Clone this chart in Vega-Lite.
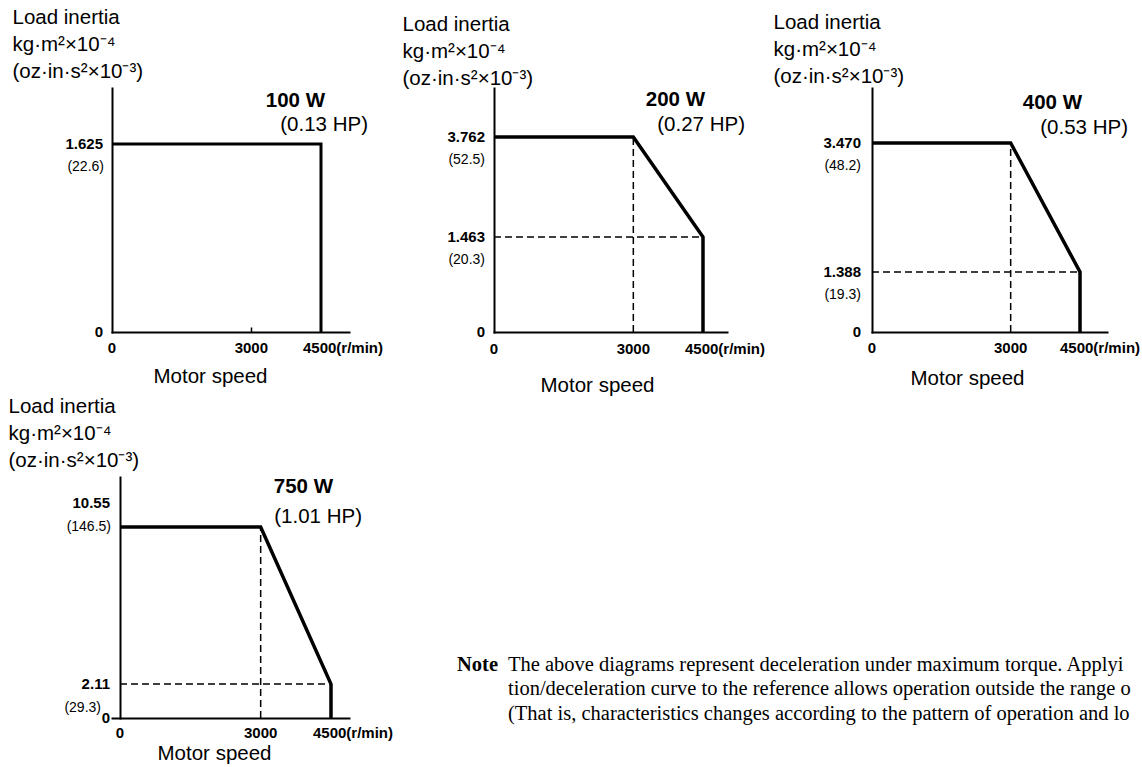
{
  "$schema": "https://vega.github.io/schema/vega-lite/v6.json",
  "autosize": {"type": "pad"},
  "padding": {"left": 8, "top": 7, "right": 0, "bottom": 0},
  "background": "white",
  "config": {
    "view": {"stroke": null},
    "font": "Liberation Sans",
    "axis": {"grid": false, "ticks": false, "labels": false, "domainColor": "black", "domainWidth": 2, "domainCap": "square", "titleFont": "Liberation Sans", "titleFontSize": 20.5, "titleFontWeight": "normal", "titleColor": "black"},
    "axisX": {"titleAlign": "center", "titleBaseline": "middle"},
    "axisY": {"titleAngle": 0, "titleAlign": "left", "titleBaseline": "alphabetic", "titleLineHeight": 27},
    "text": {"color": "black", "font": "Liberation Sans"}
  },
  "datasets": {
    "curve": [
      {"panel": "100 W", "step": 1, "speed": 0, "inertia": 1.625},
      {"panel": "100 W", "step": 2, "speed": 4500, "inertia": 1.625},
      {"panel": "100 W", "step": 3, "speed": 4500, "inertia": 0},
      {"panel": "200 W", "step": 1, "speed": 0, "inertia": 3.762},
      {"panel": "200 W", "step": 2, "speed": 3000, "inertia": 3.762},
      {"panel": "200 W", "step": 3, "speed": 4500, "inertia": 1.463},
      {"panel": "200 W", "step": 4, "speed": 4500, "inertia": 0},
      {"panel": "400 W", "step": 1, "speed": 0, "inertia": 3.470},
      {"panel": "400 W", "step": 2, "speed": 3000, "inertia": 3.470},
      {"panel": "400 W", "step": 3, "speed": 4500, "inertia": 1.388},
      {"panel": "400 W", "step": 4, "speed": 4500, "inertia": 0},
      {"panel": "750 W", "step": 1, "speed": 0, "inertia": 10.55},
      {"panel": "750 W", "step": 2, "speed": 3000, "inertia": 10.55},
      {"panel": "750 W", "step": 3, "speed": 4500, "inertia": 2.11},
      {"panel": "750 W", "step": 4, "speed": 4500, "inertia": 0}
    ],
    "guides": [
      {"panel": "200 W", "speed": 3000, "speed2": 3000, "inertia": 0, "inertia2": 3.762},
      {"panel": "200 W", "speed": 0, "speed2": 4500, "inertia": 1.463, "inertia2": 1.463},
      {"panel": "400 W", "speed": 3000, "speed2": 3000, "inertia": 0, "inertia2": 3.470},
      {"panel": "400 W", "speed": 0, "speed2": 4500, "inertia": 1.388, "inertia2": 1.388},
      {"panel": "750 W", "speed": 3000, "speed2": 3000, "inertia": 0, "inertia2": 10.55},
      {"panel": "750 W", "speed": 0, "speed2": 4500, "inertia": 2.11, "inertia2": 2.11}
    ],
    "yticks": [
      {"panel": "100 W", "inertia": 1.625, "label": "1.625", "sub": "(22.6)"},
      {"panel": "100 W", "inertia": 0, "label": "0", "sub": ""},
      {"panel": "200 W", "inertia": 3.762, "label": "3.762", "sub": "(52.5)"},
      {"panel": "200 W", "inertia": 1.463, "label": "1.463", "sub": "(20.3)"},
      {"panel": "200 W", "inertia": 0, "label": "0", "sub": ""},
      {"panel": "400 W", "inertia": 3.470, "label": "3.470", "sub": "(48.2)"},
      {"panel": "400 W", "inertia": 1.388, "label": "1.388", "sub": "(19.3)"},
      {"panel": "400 W", "inertia": 0, "label": "0", "sub": ""},
      {"panel": "750 W", "inertia": 10.55, "label": "10.55", "sub": "(146.5)"},
      {"panel": "750 W", "inertia": 2.11, "label": "2.11", "sub": "(29.3)"},
      {"panel": "750 W", "inertia": 0, "label": "0", "sub": ""}
    ],
    "xticks": [
      {"speed": 0, "label": "0"},
      {"speed": 3000, "label": "3000"},
      {"speed": 4500, "label": "4500(r/min)"}
    ],
    "ratings": [
      {"panel": "100 W", "hp": "(0.13 HP)"},
      {"panel": "200 W", "hp": "(0.27 HP)"},
      {"panel": "400 W", "hp": "(0.53 HP)"},
      {"panel": "750 W", "hp": "(1.01 HP)"}
    ],
    "note": [
      {"line": 1, "note": "Note", "text": "The above diagrams represent deceleration under maximum torque. Applyi"},
      {"line": 2, "note": "", "text": "tion/deceleration curve to the reference allows operation outside the range o"},
      {"line": 3, "note": "", "text": "(That is, characteristics changes according to the pattern of operation and lo"}
    ]
  },
  "concat": [
    {
      "width": 237, "height": 244,
      "layer": [
        {"data": {"name": "curve"}, "transform": [{"filter": "datum.panel === '100 W'"}],
         "mark": {"type": "line", "color": "black", "strokeWidth": 3, "strokeJoin": "miter", "strokeCap": "butt"},
         "encoding": {
           "x": {"field": "speed", "type": "quantitative", "scale": {"domain": [0, 5103], "nice": false, "zero": false},
                 "axis": {"title": "Motor speed", "titleX": 98, "titleY": 44, "values": [3000], "ticks": true, "tickSize": -5, "tickColor": "black", "tickWidth": 1.5}},
           "y": {"field": "inertia", "type": "quantitative", "scale": {"domain": [0, 2.109], "nice": false, "zero": false},
                 "axis": {"title": ["Load inertia", "kg·m²×10⁻⁴", "(oz·in·s²×10⁻³)"], "titleX": -100, "titleY": -65}},
           "order": {"field": "step", "type": "quantitative"}
         }},
        {"data": {"name": "yticks"}, "transform": [{"filter": "datum.panel === '100 W'"}],
         "mark": {"type": "text", "align": "right", "baseline": "middle", "dx": -9, "fontSize": 15, "fontWeight": "bold"},
         "encoding": {"x": {"datum": 0, "type": "quantitative"}, "y": {"field": "inertia", "type": "quantitative"}, "text": {"field": "label"}}},
        {"data": {"name": "yticks"}, "transform": [{"filter": "datum.panel === '100 W'"}],
         "mark": {"type": "text", "align": "right", "baseline": "middle", "dx": -8, "dy": 23, "fontSize": 14},
         "encoding": {"x": {"datum": 0, "type": "quantitative"}, "y": {"field": "inertia", "type": "quantitative"}, "text": {"field": "sub"}}},
        {"data": {"name": "xticks"}, "transform": [{"filter": "datum.speed < 4500"}],
         "mark": {"type": "text", "align": "center", "baseline": "middle", "dy": 16, "fontSize": 15, "fontWeight": "bold"},
         "encoding": {"x": {"field": "speed", "type": "quantitative"}, "y": {"datum": 0, "type": "quantitative"}, "text": {"field": "label"}}},
        {"data": {"name": "xticks"}, "transform": [{"filter": "datum.speed === 4500"}],
         "mark": {"type": "text", "align": "left", "baseline": "middle", "dx": -18, "dy": 16, "fontSize": 15, "fontWeight": "bold"},
         "encoding": {"x": {"field": "speed", "type": "quantitative"}, "y": {"datum": 0, "type": "quantitative"}, "text": {"field": "label"}}},
        {"data": {"name": "ratings"}, "transform": [{"filter": "datum.panel === '100 W'"}],
         "mark": {"type": "text", "align": "right", "baseline": "middle", "dx": 4, "dy": 13, "fontSize": 20.5, "fontWeight": "bold"},
         "encoding": {"x": {"datum": 4500, "type": "quantitative"}, "y": {"datum": 2.109, "type": "quantitative"}, "text": {"field": "panel"}}},
        {"data": {"name": "ratings"}, "transform": [{"filter": "datum.panel === '100 W'"}],
         "mark": {"type": "text", "align": "right", "baseline": "middle", "dx": 47, "dy": 37, "fontSize": 20.5},
         "encoding": {"x": {"datum": 4500, "type": "quantitative"}, "y": {"datum": 2.109, "type": "quantitative"}, "text": {"field": "hp"}}}
      ]
    },
    {
      "width": 233, "height": 244,
      "layer": [
        {"data": {"name": "curve"}, "transform": [{"filter": "datum.panel === '200 W'"}],
         "mark": {"type": "line", "color": "black", "strokeWidth": 3.5, "strokeJoin": "miter", "strokeCap": "butt"},
         "encoding": {
           "x": {"field": "speed", "type": "quantitative", "scale": {"domain": [0, 5017], "nice": false, "zero": false},
                 "axis": {"title": "Motor speed", "titleX": 103, "titleY": 53}},
           "y": {"field": "inertia", "type": "quantitative", "scale": {"domain": [0, 1.463, 3.762, 4.889], "range": [244, 149, 49, 0], "nice": false, "zero": false},
                 "axis": {"title": ["Load inertia", "kg·m²×10⁻⁴", "(oz·in·s²×10⁻³)"], "titleX": -92, "titleY": -58}},
           "order": {"field": "step", "type": "quantitative"}
         }},
        {"data": {"name": "guides"}, "transform": [{"filter": "datum.panel === '200 W'"}],
         "mark": {"type": "rule", "color": "black", "strokeWidth": 1.5, "strokeDash": [7, 4]},
         "encoding": {"x": {"field": "speed", "type": "quantitative"}, "x2": {"field": "speed2"}, "y": {"field": "inertia", "type": "quantitative"}, "y2": {"field": "inertia2"}}},
        {"data": {"name": "yticks"}, "transform": [{"filter": "datum.panel === '200 W'"}],
         "mark": {"type": "text", "align": "right", "baseline": "middle", "dx": -9, "fontSize": 15, "fontWeight": "bold"},
         "encoding": {"x": {"datum": 0, "type": "quantitative"}, "y": {"field": "inertia", "type": "quantitative"}, "text": {"field": "label"}}},
        {"data": {"name": "yticks"}, "transform": [{"filter": "datum.panel === '200 W'"}],
         "mark": {"type": "text", "align": "right", "baseline": "middle", "dx": -9, "dy": 23, "fontSize": 14},
         "encoding": {"x": {"datum": 0, "type": "quantitative"}, "y": {"field": "inertia", "type": "quantitative"}, "text": {"field": "sub"}}},
        {"data": {"name": "xticks"}, "transform": [{"filter": "datum.speed < 4500"}],
         "mark": {"type": "text", "align": "center", "baseline": "middle", "dy": 17, "fontSize": 15, "fontWeight": "bold"},
         "encoding": {"x": {"field": "speed", "type": "quantitative"}, "y": {"datum": 0, "type": "quantitative"}, "text": {"field": "label"}}},
        {"data": {"name": "xticks"}, "transform": [{"filter": "datum.speed === 4500"}],
         "mark": {"type": "text", "align": "left", "baseline": "middle", "dx": -18, "dy": 17, "fontSize": 15, "fontWeight": "bold"},
         "encoding": {"x": {"field": "speed", "type": "quantitative"}, "y": {"datum": 0, "type": "quantitative"}, "text": {"field": "label"}}},
        {"data": {"name": "ratings"}, "transform": [{"filter": "datum.panel === '200 W'"}],
         "mark": {"type": "text", "align": "right", "baseline": "middle", "dx": 2, "dy": 12, "fontSize": 20.5, "fontWeight": "bold"},
         "encoding": {"x": {"datum": 4500, "type": "quantitative"}, "y": {"datum": 4.889, "type": "quantitative"}, "text": {"field": "panel"}}},
        {"data": {"name": "ratings"}, "transform": [{"filter": "datum.panel === '200 W'"}],
         "mark": {"type": "text", "align": "right", "baseline": "middle", "dx": 42, "dy": 37, "fontSize": 20.5},
         "encoding": {"x": {"datum": 4500, "type": "quantitative"}, "y": {"datum": 4.889, "type": "quantitative"}, "text": {"field": "hp"}}}
      ]
    },
    {
      "width": 235, "height": 244,
      "layer": [
        {"data": {"name": "curve"}, "transform": [{"filter": "datum.panel === '400 W'"}],
         "mark": {"type": "line", "color": "black", "strokeWidth": 3.5, "strokeJoin": "miter", "strokeCap": "butt"},
         "encoding": {
           "x": {"field": "speed", "type": "quantitative", "scale": {"domain": [0, 5084], "nice": false, "zero": false},
                 "axis": {"title": "Motor speed", "titleX": 95, "titleY": 46}},
           "y": {"field": "inertia", "type": "quantitative", "scale": {"domain": [0, 1.388, 3.470, 4.358], "range": [244, 184, 55, 0], "nice": false, "zero": false},
                 "axis": {"title": ["Load inertia", "kg·m²×10⁻⁴", "(oz·in·s²×10⁻³)"], "titleX": -99, "titleY": -60}},
           "order": {"field": "step", "type": "quantitative"}
         }},
        {"data": {"name": "guides"}, "transform": [{"filter": "datum.panel === '400 W'"}],
         "mark": {"type": "rule", "color": "black", "strokeWidth": 1.5, "strokeDash": [7, 4]},
         "encoding": {"x": {"field": "speed", "type": "quantitative"}, "x2": {"field": "speed2"}, "y": {"field": "inertia", "type": "quantitative"}, "y2": {"field": "inertia2"}}},
        {"data": {"name": "yticks"}, "transform": [{"filter": "datum.panel === '400 W'"}],
         "mark": {"type": "text", "align": "right", "baseline": "middle", "dx": -11, "fontSize": 15, "fontWeight": "bold"},
         "encoding": {"x": {"datum": 0, "type": "quantitative"}, "y": {"field": "inertia", "type": "quantitative"}, "text": {"field": "label"}}},
        {"data": {"name": "yticks"}, "transform": [{"filter": "datum.panel === '400 W'"}],
         "mark": {"type": "text", "align": "right", "baseline": "middle", "dx": -11, "dy": 23, "fontSize": 14},
         "encoding": {"x": {"datum": 0, "type": "quantitative"}, "y": {"field": "inertia", "type": "quantitative"}, "text": {"field": "sub"}}},
        {"data": {"name": "xticks"}, "transform": [{"filter": "datum.speed < 4500"}],
         "mark": {"type": "text", "align": "center", "baseline": "middle", "dy": 16, "fontSize": 15, "fontWeight": "bold"},
         "encoding": {"x": {"field": "speed", "type": "quantitative"}, "y": {"datum": 0, "type": "quantitative"}, "text": {"field": "label"}}},
        {"data": {"name": "xticks"}, "transform": [{"filter": "datum.speed === 4500"}],
         "mark": {"type": "text", "align": "left", "baseline": "middle", "dx": -20, "dy": 16, "fontSize": 15, "fontWeight": "bold"},
         "encoding": {"x": {"field": "speed", "type": "quantitative"}, "y": {"datum": 0, "type": "quantitative"}, "text": {"field": "label"}}},
        {"data": {"name": "ratings"}, "transform": [{"filter": "datum.panel === '400 W'"}],
         "mark": {"type": "text", "align": "right", "baseline": "middle", "dx": 2, "dy": 15, "fontSize": 20.5, "fontWeight": "bold"},
         "encoding": {"x": {"datum": 4500, "type": "quantitative"}, "y": {"datum": 4.358, "type": "quantitative"}, "text": {"field": "panel"}}},
        {"data": {"name": "ratings"}, "transform": [{"filter": "datum.panel === '400 W'"}],
         "mark": {"type": "text", "align": "right", "baseline": "middle", "dx": 48, "dy": 40, "fontSize": 20.5},
         "encoding": {"x": {"datum": 4500, "type": "quantitative"}, "y": {"datum": 4.358, "type": "quantitative"}, "text": {"field": "hp"}}}
      ]
    },
    {
      "width": 237, "height": 241,
      "layer": [
        {"data": {"name": "curve"}, "transform": [{"filter": "datum.panel === '750 W'"}],
         "mark": {"type": "line", "color": "black", "strokeWidth": 3.5, "strokeJoin": "miter", "strokeCap": "butt"},
         "encoding": {
           "x": {"field": "speed", "type": "quantitative", "scale": {"domain": [-170.6, 4884], "nice": false, "zero": false},
                 "axis": {"title": "Motor speed", "titleX": 102, "titleY": 35}},
           "y": {"field": "inertia", "type": "quantitative", "scale": {"domain": [0, 2.11, 10.55, 13.24], "range": [241, 207, 50, 0], "nice": false, "zero": false},
                 "axis": {"offset": -8, "title": ["Load inertia", "kg·m²×10⁻⁴", "(oz·in·s²×10⁻³)"], "titleX": -112, "titleY": -65}},
           "order": {"field": "step", "type": "quantitative"}
         }},
        {"data": {"name": "guides"}, "transform": [{"filter": "datum.panel === '750 W'"}],
         "mark": {"type": "rule", "color": "black", "strokeWidth": 1.5, "strokeDash": [7, 4]},
         "encoding": {"x": {"field": "speed", "type": "quantitative"}, "x2": {"field": "speed2"}, "y": {"field": "inertia", "type": "quantitative"}, "y2": {"field": "inertia2"}}},
        {"data": {"name": "yticks"}, "transform": [{"filter": "datum.panel === '750 W' && datum.inertia < 10"}],
         "mark": {"type": "text", "align": "right", "baseline": "middle", "dx": -10, "fontSize": 15, "fontWeight": "bold"},
         "encoding": {"x": {"datum": 0, "type": "quantitative"}, "y": {"field": "inertia", "type": "quantitative"}, "text": {"field": "label"}}},
        {"data": {"name": "yticks"}, "transform": [{"filter": "datum.panel === '750 W' && datum.inertia < 10"}],
         "mark": {"type": "text", "align": "right", "baseline": "middle", "dx": -19, "dy": 24, "fontSize": 14},
         "encoding": {"x": {"datum": 0, "type": "quantitative"}, "y": {"field": "inertia", "type": "quantitative"}, "text": {"field": "sub"}}},
        {"data": {"name": "yticks"}, "transform": [{"filter": "datum.panel === '750 W' && datum.inertia > 10"}],
         "mark": {"type": "text", "align": "right", "baseline": "middle", "dx": -10, "dy": -24, "fontSize": 15, "fontWeight": "bold"},
         "encoding": {"x": {"datum": 0, "type": "quantitative"}, "y": {"field": "inertia", "type": "quantitative"}, "text": {"field": "label"}}},
        {"data": {"name": "yticks"}, "transform": [{"filter": "datum.panel === '750 W' && datum.inertia > 10"}],
         "mark": {"type": "text", "align": "right", "baseline": "middle", "dx": -9, "dy": 0, "fontSize": 14},
         "encoding": {"x": {"datum": 0, "type": "quantitative"}, "y": {"field": "inertia", "type": "quantitative"}, "text": {"field": "sub"}}},
        {"data": {"name": "xticks"}, "transform": [{"filter": "datum.speed < 4500"}],
         "mark": {"type": "text", "align": "center", "baseline": "middle", "dy": 15, "fontSize": 15, "fontWeight": "bold"},
         "encoding": {"x": {"field": "speed", "type": "quantitative"}, "y": {"datum": 0, "type": "quantitative"}, "text": {"field": "label"}}},
        {"data": {"name": "xticks"}, "transform": [{"filter": "datum.speed === 4500"}],
         "mark": {"type": "text", "align": "left", "baseline": "middle", "dx": -18, "dy": 15, "fontSize": 15, "fontWeight": "bold"},
         "encoding": {"x": {"field": "speed", "type": "quantitative"}, "y": {"datum": 0, "type": "quantitative"}, "text": {"field": "label"}}},
        {"data": {"name": "ratings"}, "transform": [{"filter": "datum.panel === '750 W'"}],
         "mark": {"type": "text", "align": "right", "baseline": "middle", "dx": 2, "dy": 10, "fontSize": 20.5, "fontWeight": "bold"},
         "encoding": {"x": {"datum": 4500, "type": "quantitative"}, "y": {"datum": 13.24, "type": "quantitative"}, "text": {"field": "panel"}}},
        {"data": {"name": "ratings"}, "transform": [{"filter": "datum.panel === '750 W'"}],
         "mark": {"type": "text", "align": "right", "baseline": "middle", "dx": 31, "dy": 40, "fontSize": 20.5},
         "encoding": {"x": {"datum": 4500, "type": "quantitative"}, "y": {"datum": 13.24, "type": "quantitative"}, "text": {"field": "hp"}}}
      ]
    },
    {
      "width": 233, "height": 241,
      "data": {"name": "note"},
      "layer": [
        {"mark": {"type": "text", "align": "left", "baseline": "middle", "font": "Liberation Serif", "fontSize": 20.5, "fontWeight": "bold", "dx": -37},
         "encoding": {
           "x": {"datum": 0, "type": "quantitative", "scale": {"domain": [0, 1]}, "axis": null},
           "y": {"field": "line", "type": "quantitative", "scale": {"domain": [1, 3], "range": [188, 236.5]}, "axis": null},
           "text": {"field": "note"}
         }},
        {"mark": {"type": "text", "align": "left", "baseline": "middle", "font": "Liberation Serif", "fontSize": 20.5, "dx": 14, "limit": 634, "ellipsis": " "},
         "encoding": {
           "x": {"datum": 0, "type": "quantitative"},
           "y": {"field": "line", "type": "quantitative"},
           "text": {"field": "text"}
         }}
      ]
    }
  ],
  "columns": 3,
  "spacing": {"row": 145, "column": 145},
  "bounds": "flush"
}
